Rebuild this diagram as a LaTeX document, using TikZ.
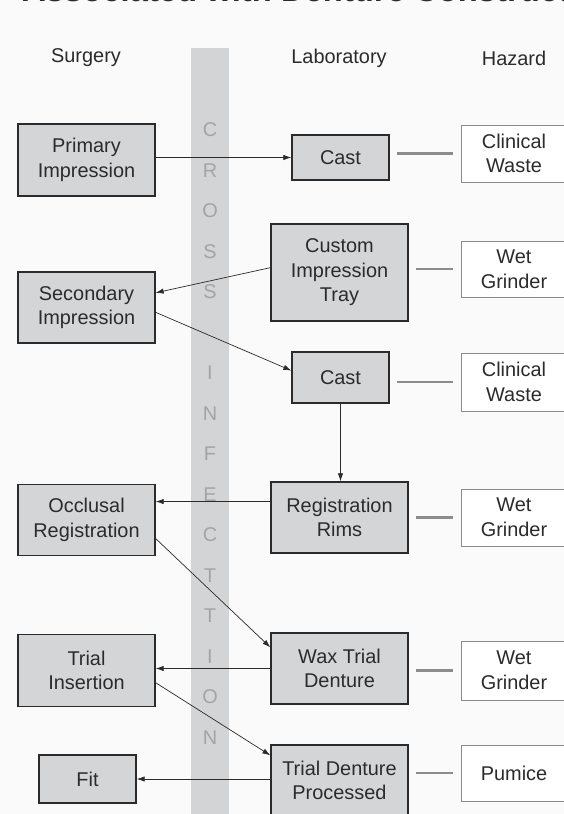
\documentclass[tikz,border=0pt]{standalone}
\usepackage{fontspec}
\setmainfont{Liberation Sans}
\usetikzlibrary{arrows.meta}
\definecolor{boxgray}{HTML}{D4D5D7}
\definecolor{bargray}{HTML}{D3D4D6}
\definecolor{lettergray}{HTML}{A3A4A6}
\definecolor{inkgray}{HTML}{2B2B2B}
\definecolor{hazgray}{HTML}{8C8C8C}
\definecolor{paper}{HTML}{FAFAFA}
\begin{document}
\begin{tikzpicture}[
		x=0.03cm, y=-0.03cm,
		font=\fontsize{17}{21}\selectfont,
		every node/.style = {text=inkgray, align=center, inner sep=0pt},
		step box/.style = {
			rectangle,
			draw=inkgray,
			line width=1.1pt,
			fill=boxgray,
			minimum width=4.11cm,
			minimum height=2.13cm
		},
		hazard box/.style = {
			rectangle,
			draw=hazgray,
			line width=0.8pt,
			fill=white,
			minimum width=3.18cm,
			minimum height=1.71cm
		},
		flow/.style = {draw=inkgray, line width=0.6pt, -{Latex[length=2.4mm,width=1.6mm]}},
		link/.style = {draw=hazgray, line width=2pt, shorten <=0.22cm, shorten >=0.24cm}
	]
	\fill[paper] (0,0) rectangle (564,814);
	\useasboundingbox (0,0) rectangle (564,814);
	% title, cut off at the top edge
	\node[anchor=base west, font=\fontsize{28}{30}\selectfont\bfseries] (title) at (22,2) {Associated with Denture Construction};
	% the bar
	\fill[bargray] (191,48) rectangle (229,816);
	\foreach \ch [count=\i] in {C,R,O,S,S,{},I,N,F,E,C,T,T,I,O,N}
		\node[text=lettergray] (bar\i) at (210,{130+(\i-1)*40.5}) {\ch};
	% column heads
	\node (hsurg) at (86,58) {Surgery};
	\node (hlab)  at (339,58) {Laboratory};
	\node (hhaz)  at (514,58) {Hazard};
	% surgery
	\node[step box, minimum height=2.16cm] (prim) at (86.5,160)   {Primary\\Impression};
	\node[step box]                        (sec)  at (86.5,307.5) {Secondary\\Impression};
	\node[step box]                        (occ)  at (86.5,520)   {Occlusal\\Registration};
	\node[step box, minimum height=2.16cm] (ins)  at (86.5,670.5) {Trial\\Insertion};
	\node[step box, minimum width=2.91cm, minimum height=1.44cm] (fit) at (87.5,779) {Fit};
	% laboratory
	\node[step box, minimum width=2.91cm, minimum height=1.35cm] (cast) at (340.5,157.5) {Cast};
	\node[step box, minimum height=2.91cm] (tray)  at (339.5,272.5) {Custom\\Impression\\Tray};
	\node[step box, minimum width=2.91cm, minimum height=1.53cm] (recast) at (340.5,377.5) {Cast};
	\node[step box]                        (rims)  at (339.5,517.5) {Registration\\Rims};
	\node[step box]                        (wax)   at (339.5,668.5) {Wax Trial\\Denture};
	\node[step box]                        (proc)  at (339.5,780.5) {Trial Denture\\Processed};
	% hazards
	\node[hazard box]                       (wasteA) at (514,153.5) {Clinical\\Waste};
	\node[hazard box, minimum height=1.68cm] (grindA) at (514,269)   {Wet\\Grinder};
	\node[hazard box, minimum height=1.74cm] (wasteB) at (514,382)   {Clinical\\Waste};
	\node[hazard box]                       (grindB) at (514,517.5) {Wet\\Grinder};
	\node[hazard box, minimum height=1.77cm] (grindC) at (514,670.5) {Wet\\Grinder};
	\node[hazard box, minimum height=1.68cm] (pum)    at (514,773)   {Pumice};
	% hazard links
	\draw[link] (wasteA.west -| cast.east)   -- (wasteA.west);
	\draw[link] (grindA.west -| tray.east)   -- (grindA.west);
	\draw[link] (wasteB.west -| recast.east) -- (wasteB.west);
	\draw[link] (grindB.west -| rims.east)   -- (grindB.west);
	\draw[link] (grindC.west -| wax.east)    -- (grindC.west);
	\draw[link] (pum.west -| proc.east)      -- (pum.west);
	% flow
	\draw[flow] (prim.east |- cast.west) -- (cast.west);
	\draw[flow] (tray.176) -- (sec.12);
	\draw[flow] (sec.-4) -- (recast.172);
	\draw[flow] (recast.south) -- (recast.south |- rims.north);
	\draw[flow] (rims.167) -- (rims.167 -| occ.east);
	\draw[flow] (occ.-15) -- (wax.163);
	\draw[flow] (wax.west) -- (wax.west -| ins.east);
	\draw[flow] (ins.-10) -- (proc.160);
	\draw[flow] (proc.west |- fit.east) -- (fit.east);
\end{tikzpicture}
\end{document}
